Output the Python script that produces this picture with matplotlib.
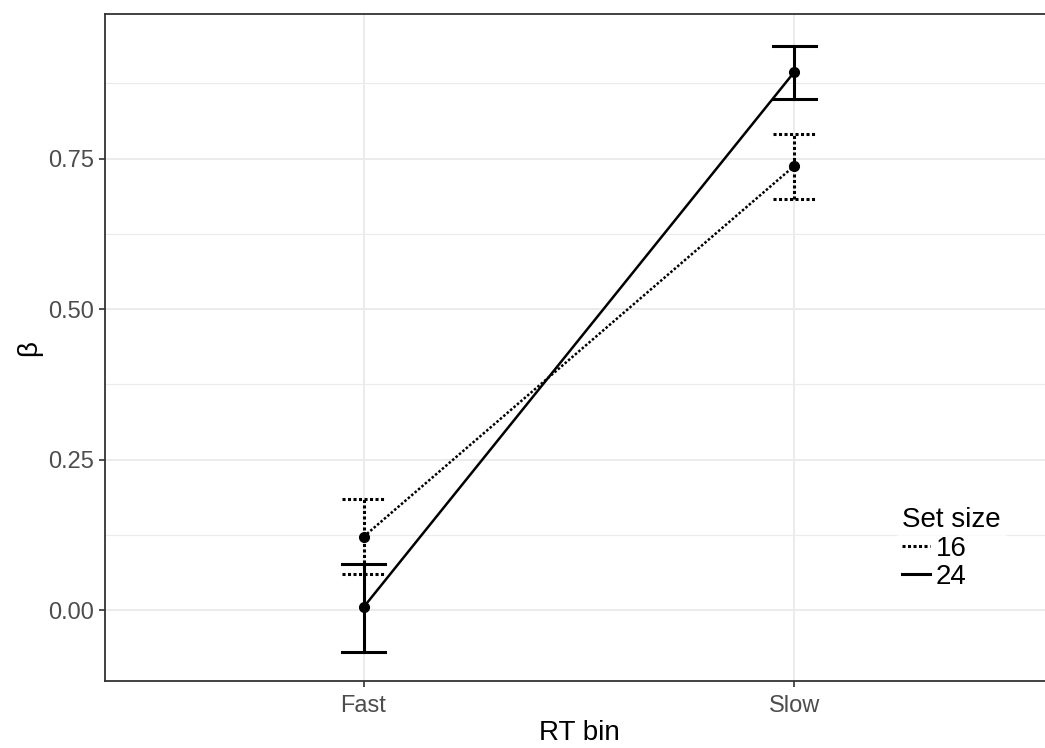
import matplotlib
matplotlib.use("Agg")
from matplotlib import pyplot as plt
from matplotlib.lines import Line2D

plt.rcParams['font.family'] = ['Liberation Sans', 'DejaVu Sans']

# data
rt_bins = ["Fast", "Slow"]
set_sizes = ["16", "24"]
beta_16 = [0.122, 0.738]
lower_16 = [0.060, 0.682]
upper_16 = [0.185, 0.790]
beta_24 = [0.005, 0.894]
lower_24 = [-0.070, 0.849]
upper_24 = [0.076, 0.937]

styles = {"16": (0, (1, 0.8)), "24": "-"}
series = {"16": (beta_16, lower_16, upper_16), "24": (beta_24, lower_24, upper_24)}

fig = plt.figure(figsize=(10.45, 7.48), dpi=100)
ax = fig.add_axes([105 / 1045, (748 - 681) / 748, (1053 - 105) / 1045, (681 - 14) / 748])

x = [1, 2]
cap = 0.05
for s in set_sizes:
    mean, lo, hi = series[s]
    ls = styles[s]
    ax.plot(x, mean, color="black", linestyle=ls, lw=1.8, zorder=3)
    ax.plot(x, mean, "o", color="black", ms=7, zorder=4)
    for xi, l, h in zip(x, lo, hi):
        ax.plot([xi, xi], [l, h], color="black", linestyle=ls, lw=2.2, zorder=3)
        ax.plot([xi - cap, xi + cap], [l, l], color="black", linestyle=ls, lw=2.2, zorder=3)
        ax.plot([xi - cap, xi + cap], [h, h], color="black", linestyle=ls, lw=2.2, zorder=3)

ax.set_xlim(0.4, 2.6)
ax.set_ylim(-0.1175, 0.99)
ax.set_xticks(x)
ax.set_xticklabels(rt_bins)
ax.set_yticks([0, 0.25, 0.5, 0.75])
ax.set_yticklabels(["0.00", "0.25", "0.50", "0.75"])
ax.set_yticks([0.125, 0.375, 0.625, 0.875], minor=True)

ax.grid(True, which="major", color="#ebebeb", lw=1.4, zorder=0)
ax.grid(True, which="minor", axis="y", color="#ebebeb", lw=0.8, zorder=0)
ax.set_axisbelow(True)

ax.tick_params(axis="both", which="major", labelsize=17, labelcolor="#4d4d4d",
               color="#333333", length=4, width=1.2, pad=4)
ax.tick_params(axis="x", which="major", pad=6)
ax.tick_params(axis="y", which="minor", length=0)
for sp in ax.spines.values():
    sp.set_color("#333333")
    sp.set_linewidth(1.3)

ax.set_xlabel("RT bin", fontsize=20, labelpad=2)
ax.set_ylabel("β", fontsize=20, labelpad=4)

handles = [Line2D([], [], color="black", linestyle=styles[s], lw=2.2) for s in set_sizes]
leg = fig.legend(handles, set_sizes, title="Set size", loc="upper left",
                 bbox_to_anchor=(883 / 1045, 1 - 488 / 748), frameon=True,
                 fontsize=20, title_fontsize=20, handlelength=1.0, handletextpad=0.2,
                 labelspacing=0.08, borderpad=0.2, alignment="left")
leg.get_frame().set_edgecolor("none")
leg.get_frame().set_facecolor("white")

fig.savefig("out.png", dpi=100)
